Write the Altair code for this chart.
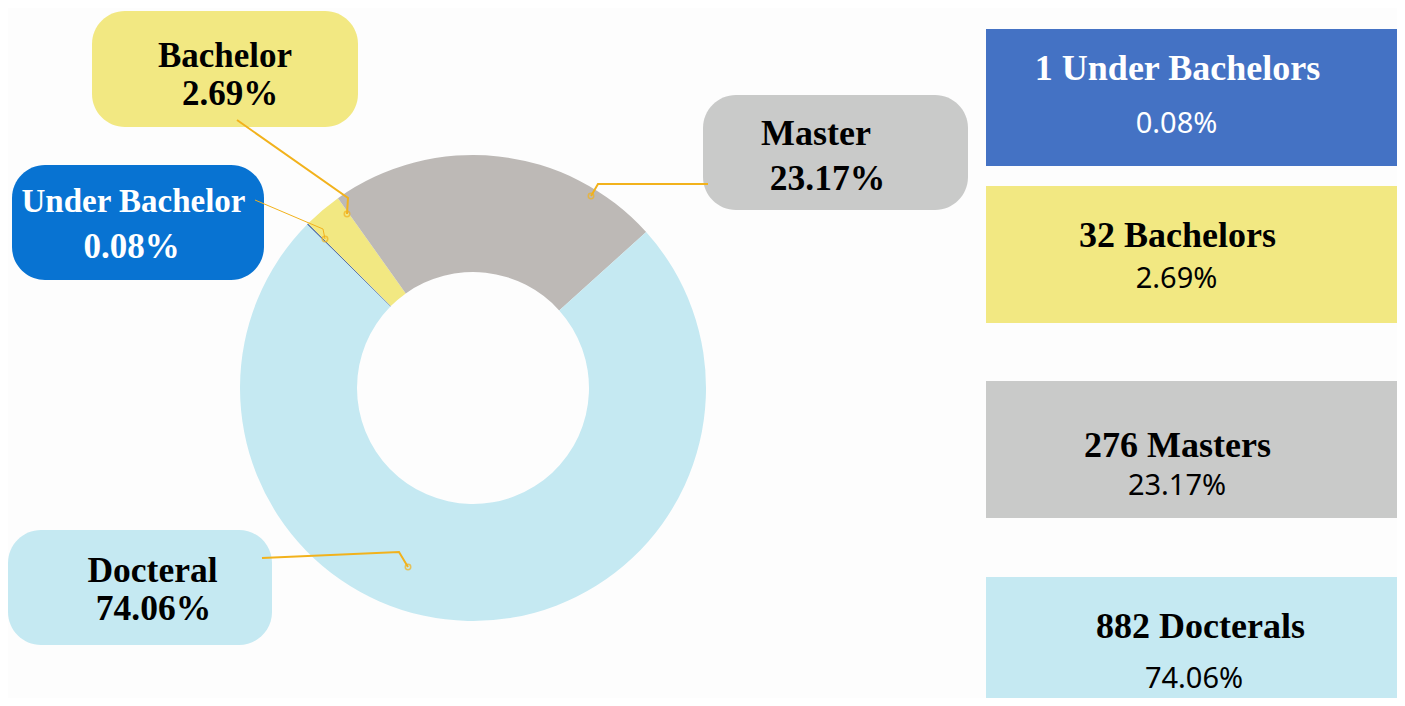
import math
import altair as alt
import pandas as pd

# ---------------- data ----------------
categories = ["Under Bachelor", "Bachelor", "Master", "Docteral"]
counts = [1, 32, 276, 882]
plural_names = ["Under Bachelors", "Bachelors", "Masters", "Docterals"]
ring_order = [1, 2, 3, 0]          # clockwise position in the ring

total = sum(counts)
pct_labels = [f"{c / total * 100:.2f}%" for c in counts]

# ---------------- styles ----------------
slice_colors = ["#34589e", "#f2e882", "#bdb9b6", "#c5e9f2"]
callout_fill = ["#0873d2", "#f2e882", "#c9cac9", "#c5e9f2"]
callout_text = ["#ffffff", "#000000", "#000000", "#000000"]
panel_fill = ["#4472c4", "#f2e882", "#c9cac9", "#c5e9f2"]
panel_text = ["#ffffff", "#000000", "#000000", "#000000"]
leader_color = "#f2b21c"

W, H = 1389, 690
CX, CY = 465, 380
R_IN, R_OUT = 116, 233
START = math.radians(48)

# ---------------- layout (chart pixels) ----------------
callout_box = [(4, 256, 157, 272), (84, 350, 3, 119), (695, 960, 87, 202), (0, 264, 522, 637)]
callout_title_pos = [(125.5, 204, 33), (217, 59, 35), (808, 137, 36), (144.5, 574, 35.5)]
callout_pct_pos = [(123.5, 250, 35), (222, 97, 35), (819.5, 182, 35.5), (145.5, 612, 35.5)]
panel_box = [(978, W, 21, 158), (978, W, 178, 315), (978, W, 373, 510), (978, W, 569, H)]
panel_title_pos = [(1169.5, 72), (1169.5, 239), (1169.5, 449), (1192.5, 630)]
panel_pct_pos = [(1168.5, 125), (1168.5, 280), (1169, 487), (1186, 680)]
leader_paths = [
    [(247, 192), (315, 221), (317, 231)],
    [(229, 112), (340, 190), (339, 206)],
    [(700, 176), (590, 176), (583, 188)],
    [(254, 550), (391, 544), (400, 559)],
]
leader_width = [1, 2, 2, 2]

# ---------------- tables ----------------
ring_df = pd.DataFrame({"category": categories, "count": counts, "ring_order": ring_order})

callout_df = pd.DataFrame({
    "category": categories,
    "x": [b[0] for b in callout_box], "x2": [b[1] for b in callout_box],
    "y": [b[2] for b in callout_box], "y2": [b[3] for b in callout_box],
    "fill": callout_fill,
})
panel_df = pd.DataFrame({
    "category": categories,
    "x": [b[0] for b in panel_box], "x2": [b[1] for b in panel_box],
    "y": [b[2] for b in panel_box], "y2": [b[3] for b in panel_box],
    "fill": panel_fill,
})

serif_rows = []
for i, cat in enumerate(categories):
    tx, ty, ts = callout_title_pos[i]
    serif_rows.append({"x": tx, "y": ty, "size": ts, "text": cat, "color": callout_text[i]})
    px, py, ps = callout_pct_pos[i]
    serif_rows.append({"x": px, "y": py, "size": ps, "text": pct_labels[i], "color": callout_text[i]})
    qx, qy = panel_title_pos[i]
    serif_rows.append({"x": qx, "y": qy, "size": 36, "text": f"{counts[i]} {plural_names[i]}",
                       "color": panel_text[i]})
serif_df = pd.DataFrame(serif_rows)

sans_df = pd.DataFrame({
    "x": [p[0] for p in panel_pct_pos], "y": [p[1] for p in panel_pct_pos],
    "text": pct_labels, "color": panel_text,
})

line_rows = []
end_rows = []
for i, cat in enumerate(categories):
    for j, (lx, ly) in enumerate(leader_paths[i]):
        line_rows.append({"category": cat, "seq": j, "x": lx, "y": ly, "w": leader_width[i]})
    ex, ey = leader_paths[i][-1]
    end_rows.append({"category": cat, "x": ex, "y": ey})
line_df = pd.DataFrame(line_rows)
end_df = pd.DataFrame(end_rows)

X = lambda f: alt.X(f, scale=None, axis=None)
Y = lambda f: alt.Y(f, scale=None, axis=None)

panels = alt.Chart(panel_df).mark_rect().encode(
    x=X("x:Q"), x2="x2:Q", y=Y("y:Q"), y2="y2:Q",
    color=alt.Color("fill:N", scale=None, legend=None),
)

callouts = alt.Chart(callout_df).mark_rect(cornerRadius=33).encode(
    x=X("x:Q"), x2="x2:Q", y=Y("y:Q"), y2="y2:Q",
    color=alt.Color("fill:N", scale=None, legend=None),
)

ring = alt.Chart(ring_df).mark_arc(innerRadius=R_IN, outerRadius=R_OUT).encode(
    theta=alt.Theta("count:Q", stack=True, scale=alt.Scale(range=[START, START + 2 * math.pi])),
    color=alt.Color("category:N", scale=alt.Scale(domain=categories, range=slice_colors), legend=None),
    order=alt.Order("ring_order:Q", sort="ascending"),
    x=alt.value(CX), y=alt.value(CY),
)

leaders = alt.Chart(line_df).mark_line(color=leader_color).encode(
    x=X("x:Q"), y=Y("y:Q"),
    detail="category:N",
    order=alt.Order("seq:Q"),
    strokeWidth=alt.StrokeWidth("w:Q", scale=None, legend=None),
)

ends = alt.Chart(end_df).mark_point(shape="circle", filled=False, size=30,
                                    color=leader_color, strokeWidth=1.5).encode(
    x=X("x:Q"), y=Y("y:Q"),
)

serif_text = alt.Chart(serif_df).mark_text(
    font="Liberation Serif", fontWeight="bold", align="center", baseline="alphabetic"
).encode(
    x=X("x:Q"), y=Y("y:Q"), text="text:N",
    size=alt.Size("size:Q", scale=None, legend=None),
    color=alt.Color("color:N", scale=None, legend=None),
)

sans_text = alt.Chart(sans_df).mark_text(
    font="Noto Sans", fontSize=29, align="center", baseline="alphabetic"
).encode(
    x=X("x:Q"), y=Y("y:Q"), text="text:N",
    color=alt.Color("color:N", scale=None, legend=None),
)

chart = alt.layer(panels, callouts, ring, leaders, ends, serif_text, sans_text).resolve_scale(
    color="independent"
).properties(
    width=W, height=H,
    autosize=alt.AutoSizeParams(type="none"),
    padding=0,
    background="#fdfdfd",
).configure_view(stroke=None)

chart.save("out.html", embed_options={"renderer": "svg", "actions": False})
